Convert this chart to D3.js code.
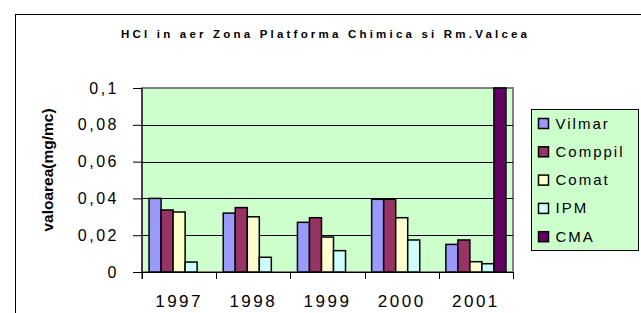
<!DOCTYPE html>
<html>
<head>
<meta charset="utf-8">
<script src="https://cdn.jsdelivr.net/npm/d3@7"></script>
<style>
  body { margin: 0; background: #fff; }
  svg { display: block; font-family: "Liberation Sans", Arial, sans-serif; }
</style>
</head>
<body>
<div id="chart"></div>
<script>
var years = ["1997", "1998", "1999", "2000", "2001"];
var series = ["Vilmar", "Comppil", "Comat", "IPM", "CMA"];
var colors = ["#9999FF", "#993366", "#FFFFCC", "#CCFFFF", "#660066"];
var vilmar  = [0.040, 0.032, 0.027, 0.0395, 0.015];
var comppil = [0.0337, 0.035, 0.0295, 0.0395, 0.0174];
var comat   = [0.0326, 0.030, 0.019, 0.0295, 0.0056];
var ipm     = [0.0054, 0.008, 0.0116, 0.0174, 0.0045];
var cma     = [0, 0, 0, 0, 0.1];
var yTicks = [0, 0.02, 0.04, 0.06, 0.08, 0.1];

var values = [vilmar, comppil, comat, ipm, cma];
var data = years.map(function(y, i) {
    return { year: y, vals: values.map(function(s) { return s[i]; }) };
});

var W = 641, H = 313;
var margin = {top: 88, right: 128, bottom: 41, left: 142},
    width = W - margin.left - margin.right,
    height = H - margin.top - margin.bottom;

var root = d3.select("#chart").append("svg")
    .attr("width", W)
    .attr("height", H);

// outer chart border
root.append("rect")
    .attr("x", 15.5).attr("y", 14.5)
    .attr("width", 700).attr("height", 400)
    .attr("fill", "none").attr("stroke", "#000").attr("stroke-width", 1);

root.append("text")
    .attr("x", 121).attr("y", 38)
    .attr("textLength", 406)
    .attr("lengthAdjust", "spacing")
    .style("font-size", "11.5px")
    .style("font-weight", "bold")
    .text("HCl in aer Zona Platforma Chimica si Rm.Valcea");

var svg = root.append("g")
    .attr("transform", "translate(" + margin.left + "," + margin.top + ")");

var x0 = d3.scaleBand().domain(years).range([0, width]).paddingInner(0.19).paddingOuter(0.095);
var x1 = d3.scaleBand().domain(series).range([0, x0.bandwidth()]);
var y = d3.scaleLinear().domain([0, 0.1]).range([height, 0]);

svg.append("rect")
    .attr("width", width).attr("height", height)
    .attr("fill", "#CCFFCC")
    .attr("stroke", "#808080").attr("stroke-width", 2);

svg.selectAll(".grid")
    .data(yTicks.slice(1, -1))
    .enter().append("line")
    .attr("x1", 0).attr("x2", width)
    .attr("y1", function(d) { return Math.round(y(d)) + 0.5; })
    .attr("y2", function(d) { return Math.round(y(d)) + 0.5; })
    .attr("stroke", "#000");

var groups = svg.selectAll(".grp")
    .data(data)
    .enter().append("g")
    .attr("transform", function(d) { return "translate(" + x0(d.year) + ",0)"; });

groups.selectAll("rect")
    .data(function(d) { return d.vals.map(function(v, i) { return {key: series[i], value: v, c: colors[i]}; }); })
    .enter().filter(function(d) { return d.value > 0; })
    .append("rect")
    .attr("x", function(d) { return x1(d.key); })
    .attr("y", function(d) { return y(d.value); })
    .attr("width", x1.bandwidth())
    .attr("height", function(d) { return height - y(d.value); })
    .attr("fill", function(d) { return d.c; })
    .attr("stroke", "#000")
    .attr("stroke-width", 1.5);

// y axis
var yAxis = svg.append("g")
    .call(d3.axisLeft(y).tickValues(yTicks).tickSize(9).tickPadding(14)
        .tickFormat(function(d) { return d3.format("~g")(d).replace(".", ","); }));
yAxis.select(".domain").attr("stroke", "#000").attr("d", "M0," + (height + 7) + "V0");
yAxis.selectAll("text")
    .style("font-size", "16px")
    .style("letter-spacing", "2.5px")
    .attr("fill", "#000");

// x axis
var xAxis = svg.append("g")
    .attr("transform", "translate(0," + height + ")")
    .call(d3.axisBottom(x0).tickSize(0).tickPadding(23));
xAxis.select(".domain").attr("stroke", "#000").attr("d", "M0,0.5H" + width);
xAxis.selectAll("text")
    .style("font-size", "17px")
    .style("letter-spacing", "2.5px")
    .attr("fill", "#000");
svg.selectAll(".xt")
    .data(years.concat(["end"]))
    .enter().append("line")
    .attr("x1", function(d, i) { return Math.round(i * width / years.length) + 0.5; })
    .attr("x2", function(d, i) { return Math.round(i * width / years.length) + 0.5; })
    .attr("y1", height).attr("y2", height + 7)
    .attr("stroke", "#000");

root.append("text")
    .attr("transform", "translate(53,170) rotate(-90)")
    .style("text-anchor", "middle")
    .style("font-size", "15.5px")
    .style("font-weight", "bold")
    .text("valoarea(mg/mc)");

// legend
var lg = root.append("g").attr("transform", "translate(531.5,109.5)");
lg.append("rect")
    .attr("width", 107).attr("height", 141)
    .attr("fill", "#CCFFCC").attr("stroke", "#000");
var items = lg.selectAll(".item")
    .data(series)
    .enter().append("g")
    .attr("transform", function(d, i) { return "translate(0," + (14 + i * 28.3) + ")"; });
items.append("rect")
    .attr("x", 7).attr("y", -5)
    .attr("width", 10).attr("height", 10)
    .attr("fill", function(d, i) { return colors[i]; })
    .attr("stroke", "#000").attr("stroke-width", 1.5);
items.append("text")
    .attr("x", 24).attr("y", 5)
    .style("font-size", "15px")
    .style("letter-spacing", "2px")
    .text(function(d) { return d; });
</script>
</body>
</html>
